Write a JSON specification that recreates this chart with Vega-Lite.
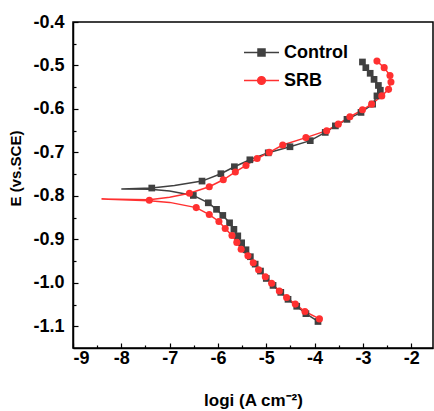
{
  "$schema": "https://vega.github.io/schema/vega-lite/v6.json",
  "width": 360,
  "height": 326,
  "autosize": "none",
  "padding": {"left": 73, "top": 22, "right": 1, "bottom": 63},
  "background": "white",
  "config": {
    "view": {"stroke": "black", "strokeWidth": 1.5},
    "font": "Liberation Sans",
    "axis": {
      "labelFont": "Liberation Sans", "labelFontSize": 18, "labelFontWeight": "bold", "labelColor": "black",
      "titleFont": "Liberation Sans", "titleFontSize": 17, "titleFontWeight": "bold", "titleColor": "black",
      "domainColor": "black", "domainWidth": 1.5, "tickColor": "black", "tickWidth": 1.2, "grid": false
    }
  },
  "datasets": {
    "curve": [
      {"s": "Control", "i": 1, "x": -3.93, "y": -1.089},
      {"s": "Control", "i": 2, "x": -4.18, "y": -1.071},
      {"s": "Control", "i": 3, "x": -4.37, "y": -1.054},
      {"s": "Control", "i": 4, "x": -4.55, "y": -1.038},
      {"s": "Control", "i": 5, "x": -4.70, "y": -1.022},
      {"s": "Control", "i": 6, "x": -4.86, "y": -1.006},
      {"s": "Control", "i": 7, "x": -5.00, "y": -0.990},
      {"s": "Control", "i": 8, "x": -5.12, "y": -0.973},
      {"s": "Control", "i": 9, "x": -5.23, "y": -0.957},
      {"s": "Control", "i": 10, "x": -5.33, "y": -0.940},
      {"s": "Control", "i": 11, "x": -5.42, "y": -0.924},
      {"s": "Control", "i": 12, "x": -5.51, "y": -0.908},
      {"s": "Control", "i": 13, "x": -5.59, "y": -0.892},
      {"s": "Control", "i": 14, "x": -5.67, "y": -0.877},
      {"s": "Control", "i": 15, "x": -5.76, "y": -0.862},
      {"s": "Control", "i": 16, "x": -5.90, "y": -0.845},
      {"s": "Control", "i": 17, "x": -6.03, "y": -0.831},
      {"s": "Control", "i": 18, "x": -6.20, "y": -0.816},
      {"s": "Control", "i": 19, "x": -6.51, "y": -0.799},
      {"s": "Control", "i": 20, "x": -7.00, "y": -0.789},
      {"s": "Control", "i": 21, "x": -7.40, "y": -0.785},
      {"s": "Control", "i": 22, "x": -8.00, "y": -0.784},
      {"s": "Control", "i": 23, "x": -7.37, "y": -0.782},
      {"s": "Control", "i": 24, "x": -6.90, "y": -0.776},
      {"s": "Control", "i": 25, "x": -6.33, "y": -0.766},
      {"s": "Control", "i": 26, "x": -5.94, "y": -0.749},
      {"s": "Control", "i": 27, "x": -5.66, "y": -0.733},
      {"s": "Control", "i": 28, "x": -5.34, "y": -0.717},
      {"s": "Control", "i": 29, "x": -4.96, "y": -0.701},
      {"s": "Control", "i": 30, "x": -4.51, "y": -0.687},
      {"s": "Control", "i": 31, "x": -4.09, "y": -0.673},
      {"s": "Control", "i": 32, "x": -3.78, "y": -0.654},
      {"s": "Control", "i": 33, "x": -3.57, "y": -0.639},
      {"s": "Control", "i": 34, "x": -3.33, "y": -0.624},
      {"s": "Control", "i": 35, "x": -3.04, "y": -0.608},
      {"s": "Control", "i": 36, "x": -2.80, "y": -0.589},
      {"s": "Control", "i": 37, "x": -2.71, "y": -0.570},
      {"s": "Control", "i": 38, "x": -2.64, "y": -0.557},
      {"s": "Control", "i": 39, "x": -2.68, "y": -0.546},
      {"s": "Control", "i": 40, "x": -2.77, "y": -0.532},
      {"s": "Control", "i": 41, "x": -2.85, "y": -0.518},
      {"s": "Control", "i": 42, "x": -2.94, "y": -0.505},
      {"s": "Control", "i": 43, "x": -3.01, "y": -0.492},
      {"s": "SRB", "i": 1, "x": -3.90, "y": -1.083},
      {"s": "SRB", "i": 2, "x": -4.20, "y": -1.066},
      {"s": "SRB", "i": 3, "x": -4.40, "y": -1.049},
      {"s": "SRB", "i": 4, "x": -4.58, "y": -1.034},
      {"s": "SRB", "i": 5, "x": -4.73, "y": -1.019},
      {"s": "SRB", "i": 6, "x": -4.89, "y": -1.001},
      {"s": "SRB", "i": 7, "x": -5.02, "y": -0.986},
      {"s": "SRB", "i": 8, "x": -5.16, "y": -0.970},
      {"s": "SRB", "i": 9, "x": -5.27, "y": -0.954},
      {"s": "SRB", "i": 10, "x": -5.38, "y": -0.938},
      {"s": "SRB", "i": 11, "x": -5.52, "y": -0.923},
      {"s": "SRB", "i": 12, "x": -5.61, "y": -0.907},
      {"s": "SRB", "i": 13, "x": -5.71, "y": -0.891},
      {"s": "SRB", "i": 14, "x": -5.85, "y": -0.875},
      {"s": "SRB", "i": 15, "x": -5.98, "y": -0.859},
      {"s": "SRB", "i": 16, "x": -6.18, "y": -0.843},
      {"s": "SRB", "i": 17, "x": -6.45, "y": -0.827},
      {"s": "SRB", "i": 18, "x": -7.00, "y": -0.815},
      {"s": "SRB", "i": 19, "x": -7.42, "y": -0.811},
      {"s": "SRB", "i": 20, "x": -8.41, "y": -0.807},
      {"s": "SRB", "i": 21, "x": -7.42, "y": -0.809},
      {"s": "SRB", "i": 22, "x": -7.00, "y": -0.803},
      {"s": "SRB", "i": 23, "x": -6.59, "y": -0.794},
      {"s": "SRB", "i": 24, "x": -6.18, "y": -0.779},
      {"s": "SRB", "i": 25, "x": -5.89, "y": -0.763},
      {"s": "SRB", "i": 26, "x": -5.64, "y": -0.745},
      {"s": "SRB", "i": 27, "x": -5.42, "y": -0.730},
      {"s": "SRB", "i": 28, "x": -5.19, "y": -0.714},
      {"s": "SRB", "i": 29, "x": -4.94, "y": -0.700},
      {"s": "SRB", "i": 30, "x": -4.66, "y": -0.683},
      {"s": "SRB", "i": 31, "x": -4.18, "y": -0.666},
      {"s": "SRB", "i": 32, "x": -3.75, "y": -0.650},
      {"s": "SRB", "i": 33, "x": -3.51, "y": -0.635},
      {"s": "SRB", "i": 34, "x": -3.27, "y": -0.618},
      {"s": "SRB", "i": 35, "x": -3.01, "y": -0.602},
      {"s": "SRB", "i": 36, "x": -2.82, "y": -0.589},
      {"s": "SRB", "i": 37, "x": -2.61, "y": -0.570},
      {"s": "SRB", "i": 38, "x": -2.47, "y": -0.555},
      {"s": "SRB", "i": 39, "x": -2.42, "y": -0.538},
      {"s": "SRB", "i": 40, "x": -2.44, "y": -0.523},
      {"s": "SRB", "i": 41, "x": -2.56, "y": -0.505},
      {"s": "SRB", "i": 42, "x": -2.71, "y": -0.490}
    ],
    "pts": [
      {"s": "Control", "x": -3.93, "y": -1.089},
      {"s": "Control", "x": -4.18, "y": -1.071},
      {"s": "Control", "x": -4.37, "y": -1.054},
      {"s": "Control", "x": -4.55, "y": -1.038},
      {"s": "Control", "x": -4.70, "y": -1.022},
      {"s": "Control", "x": -4.86, "y": -1.006},
      {"s": "Control", "x": -5.00, "y": -0.990},
      {"s": "Control", "x": -5.12, "y": -0.973},
      {"s": "Control", "x": -5.23, "y": -0.957},
      {"s": "Control", "x": -5.33, "y": -0.940},
      {"s": "Control", "x": -5.42, "y": -0.924},
      {"s": "Control", "x": -5.51, "y": -0.908},
      {"s": "Control", "x": -5.59, "y": -0.892},
      {"s": "Control", "x": -5.67, "y": -0.877},
      {"s": "Control", "x": -5.76, "y": -0.862},
      {"s": "Control", "x": -5.90, "y": -0.845},
      {"s": "Control", "x": -6.03, "y": -0.831},
      {"s": "Control", "x": -6.20, "y": -0.816},
      {"s": "Control", "x": -6.51, "y": -0.799},
      {"s": "Control", "x": -7.37, "y": -0.782},
      {"s": "Control", "x": -6.33, "y": -0.766},
      {"s": "Control", "x": -5.94, "y": -0.749},
      {"s": "Control", "x": -5.66, "y": -0.733},
      {"s": "Control", "x": -5.34, "y": -0.717},
      {"s": "Control", "x": -4.96, "y": -0.701},
      {"s": "Control", "x": -4.51, "y": -0.687},
      {"s": "Control", "x": -4.09, "y": -0.673},
      {"s": "Control", "x": -3.78, "y": -0.654},
      {"s": "Control", "x": -3.57, "y": -0.639},
      {"s": "Control", "x": -3.33, "y": -0.624},
      {"s": "Control", "x": -3.04, "y": -0.608},
      {"s": "Control", "x": -2.80, "y": -0.589},
      {"s": "Control", "x": -2.71, "y": -0.570},
      {"s": "Control", "x": -2.64, "y": -0.557},
      {"s": "Control", "x": -2.68, "y": -0.546},
      {"s": "Control", "x": -2.77, "y": -0.532},
      {"s": "Control", "x": -2.85, "y": -0.518},
      {"s": "Control", "x": -2.94, "y": -0.505},
      {"s": "Control", "x": -3.01, "y": -0.492},
      {"s": "SRB", "x": -3.90, "y": -1.083},
      {"s": "SRB", "x": -4.20, "y": -1.066},
      {"s": "SRB", "x": -4.40, "y": -1.049},
      {"s": "SRB", "x": -4.58, "y": -1.034},
      {"s": "SRB", "x": -4.73, "y": -1.019},
      {"s": "SRB", "x": -4.89, "y": -1.001},
      {"s": "SRB", "x": -5.02, "y": -0.986},
      {"s": "SRB", "x": -5.16, "y": -0.970},
      {"s": "SRB", "x": -5.27, "y": -0.954},
      {"s": "SRB", "x": -5.38, "y": -0.938},
      {"s": "SRB", "x": -5.52, "y": -0.923},
      {"s": "SRB", "x": -5.61, "y": -0.907},
      {"s": "SRB", "x": -5.71, "y": -0.891},
      {"s": "SRB", "x": -5.85, "y": -0.875},
      {"s": "SRB", "x": -5.98, "y": -0.859},
      {"s": "SRB", "x": -6.18, "y": -0.843},
      {"s": "SRB", "x": -6.45, "y": -0.827},
      {"s": "SRB", "x": -7.42, "y": -0.810},
      {"s": "SRB", "x": -6.59, "y": -0.794},
      {"s": "SRB", "x": -6.18, "y": -0.779},
      {"s": "SRB", "x": -5.89, "y": -0.763},
      {"s": "SRB", "x": -5.64, "y": -0.745},
      {"s": "SRB", "x": -5.42, "y": -0.730},
      {"s": "SRB", "x": -5.19, "y": -0.714},
      {"s": "SRB", "x": -4.94, "y": -0.700},
      {"s": "SRB", "x": -4.66, "y": -0.683},
      {"s": "SRB", "x": -4.18, "y": -0.666},
      {"s": "SRB", "x": -3.75, "y": -0.650},
      {"s": "SRB", "x": -3.51, "y": -0.635},
      {"s": "SRB", "x": -3.27, "y": -0.618},
      {"s": "SRB", "x": -3.01, "y": -0.602},
      {"s": "SRB", "x": -2.82, "y": -0.589},
      {"s": "SRB", "x": -2.61, "y": -0.570},
      {"s": "SRB", "x": -2.47, "y": -0.555},
      {"s": "SRB", "x": -2.42, "y": -0.538},
      {"s": "SRB", "x": -2.44, "y": -0.523},
      {"s": "SRB", "x": -2.56, "y": -0.505},
      {"s": "SRB", "x": -2.71, "y": -0.490}
    ]
  },
  "encoding": {
    "x": {
      "field": "x", "type": "quantitative",
      "scale": {"domain": [-9, -1.55], "nice": false, "zero": false},
      "axis": {
        "title": "logi (A cm⁻²)",
        "values": [-9, -8.5, -8, -7.5, -7, -6.5, -6, -5.5, -5, -4.5, -4, -3.5, -3, -2.5, -2],
        "labelExpr": "datum.value % 1 === 0 ? toString(datum.value) : ''",
        "tickSize": {"condition": {"test": "datum.value % 1 !== 0", "value": -3}, "value": -5},
        "labelPadding": 6,
        "titlePadding": 25
      }
    },
    "y": {
      "field": "y", "type": "quantitative",
      "scale": {"domain": [-1.15, -0.4], "nice": false, "zero": false},
      "axis": {
        "title": "E (vs.SCE)",
        "titleFontSize": 15,
        "values": [-1.1, -1.05, -1.0, -0.95, -0.9, -0.85, -0.8, -0.75, -0.7, -0.65, -0.6, -0.55, -0.5, -0.45, -0.4],
        "labelExpr": "abs(datum.value * 10 - round(datum.value * 10)) > 0.1 ? '' : replace(format(datum.value, '.1f'), '\u2212', '-')",
        "tickSize": {"condition": {"test": "abs(datum.value * 10 - round(datum.value * 10)) > 0.1", "value": -3}, "value": -5},
        "labelPadding": 14,
        "titleX": -50,
        "titleY": 146
      }
    },
    "color": {
      "field": "s", "type": "nominal",
      "scale": {"domain": ["Control", "SRB"], "range": ["#404040", "#ff3030"]},
      "legend": {
        "orient": "none", "legendX": 170, "legendY": 12, "title": null,
        "labelFont": "Liberation Sans", "labelFontSize": 18, "labelFontWeight": "bold", "labelColor": "black",
        "symbolSize": 1225, "symbolStrokeWidth": 1.5, "labelOffset": 4, "rowPadding": -2,
        "symbolType": "M-1,0H1M-0.2,-0.2H0.2V0.2H-0.2Z",
        "encode": {
          "symbols": {
            "update": {
              "shape": {"signal": "datum.value === 'Control' ? 'M-1,0H1M-0.2,-0.2H0.2V0.2H-0.2Z' : 'M-1,0H1M-0.22,0A0.22,0.22 0 1,0 0.22,0A0.22,0.22 0 1,0 -0.22,0Z'"},
              "fill": {"signal": "datum.value === 'Control' ? '#404040' : '#ff3030'"},
              "stroke": {"signal": "datum.value === 'Control' ? '#404040' : '#ff3030'"},
              "strokeWidth": {"value": 1.5},
              "opacity": {"value": 1},
              "fillOpacity": {"value": 1}
            }
          }
        }
      }
    }
  },
  "layer": [
    {
      "data": {"name": "curve"},
      "mark": {"type": "line", "strokeWidth": 1.5},
      "encoding": {"order": {"field": "i", "type": "quantitative"}}
    },
    {
      "data": {"name": "pts"},
      "transform": [{"filter": "datum.s === 'Control'"}],
      "mark": {"type": "point", "filled": true, "opacity": 1, "size": 45, "shape": "square"}
    },
    {
      "data": {"name": "pts"},
      "transform": [{"filter": "datum.s === 'SRB'"}],
      "mark": {"type": "point", "filled": true, "opacity": 1, "size": 50, "shape": "circle"}
    }
  ]
}
